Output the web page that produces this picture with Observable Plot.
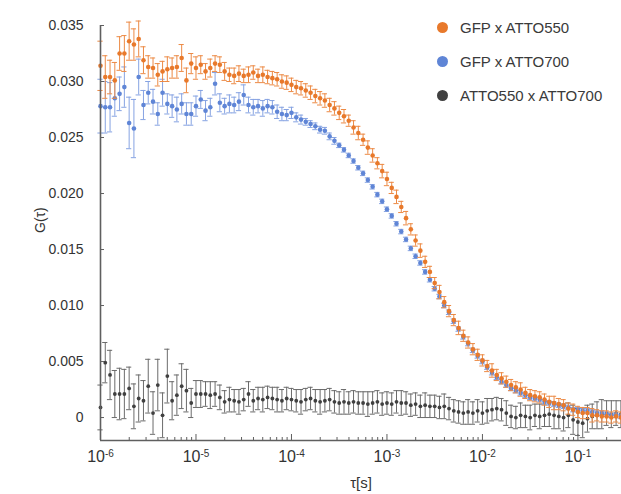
<!DOCTYPE html>
<html>
<head>
<meta charset="utf-8">
<script src="https://cdn.jsdelivr.net/npm/d3@7"></script>
<script src="https://cdn.jsdelivr.net/npm/@observablehq/plot@0.6"></script>
<style>
  html, body { margin: 0; padding: 0; background: #fff; }
  #chart { position: relative; width: 621px; height: 494px; font-family: "Liberation Sans", Arial, sans-serif; }
  .legend { position: absolute; left: 437px; top: 17px; font-size: 15px; color: #3a3a3a; }
  .legend .row { display: flex; align-items: center; height: 20px; margin-bottom: 14px; }
  .legend .sw { width: 11px; height: 11px; border-radius: 50%; margin-right: 12px; }
</style>
</head>
<body>
<div id="chart"></div>
<script>
// Lag times, log10(τ / s)
const logTau = [
  -6.00,-5.95,-5.90,-5.85,-5.80,-5.75,-5.70,-5.65,-5.60,-5.55,
  -5.50,-5.45,-5.40,-5.35,-5.30,-5.25,-5.20,-5.15,-5.10,-5.05,
  -5.00,-4.95,-4.90,-4.85,-4.80,-4.75,-4.70,-4.65,-4.60,-4.55,
  -4.50,-4.45,-4.40,-4.35,-4.30,-4.25,-4.20,-4.15,-4.10,-4.05,
  -4.00,-3.95,-3.90,-3.85,-3.80,-3.75,-3.70,-3.65,-3.60,-3.55,
  -3.50,-3.45,-3.40,-3.35,-3.30,-3.25,-3.20,-3.15,-3.10,-3.05,
  -3.00,-2.95,-2.90,-2.85,-2.80,-2.75,-2.70,-2.65,-2.60,-2.55,
  -2.50,-2.45,-2.40,-2.35,-2.30,-2.25,-2.20,-2.15,-2.10,-2.05,
  -2.00,-1.95,-1.90,-1.85,-1.80,-1.75,-1.70,-1.65,-1.60,-1.55,
  -1.50,-1.45,-1.40,-1.35,-1.30,-1.25,-1.20,-1.15,-1.10,-1.05,
  -1.00,-0.95,-0.90,-0.85,-0.80,-0.75,-0.70,-0.65,-0.60,-0.55
];

// Cross-correlation amplitudes G(τ), in units of 10^-3
const gfpAtto550 = [
  31.4,30.4,30.4,30.1,32.5,32.5,33.6,33.3,33.8,31.9,
  31.3,31.2,30.6,30.9,31.1,31.2,31.3,32.1,30.1,31.6,
  31.2,31.5,30.9,31.2,31.6,31.5,30.9,30.6,30.5,30.7,
  30.5,30.6,30.8,30.5,30.6,30.4,30.3,30.2,30.0,29.9,
  29.7,29.5,29.4,29.2,29.0,28.7,28.5,28.3,27.9,27.6,
  27.2,26.9,26.5,25.9,25.4,24.8,24.1,23.4,22.7,22.0,
  21.3,20.5,19.7,18.8,17.8,16.8,15.8,14.9,13.9,13.0,
  12.0,11.2,10.3,9.5,8.7,8.0,7.3,6.7,6.1,5.6,
  5.1,4.6,4.2,3.8,3.5,3.2,2.9,2.7,2.5,2.2,
  2.0,1.9,1.8,1.6,1.4,1.3,1.2,1.1,0.8,0.7,
  0.5,0.4,0.4,0.2,0.2,0.1,0.1,0.0,0.1,0.0
];
const gfpAtto550Err = [
  2.2,1.9,1.5,1.6,1.5,1.6,1.7,1.4,1.6,1.2,
  1.0,0.9,1.0,0.9,1.1,0.9,1.0,1.2,1.1,0.9,
  1.0,0.8,0.7,0.8,0.7,0.7,0.8,0.6,0.7,0.7,
  0.6,0.7,0.6,0.6,0.7,0.6,0.6,0.6,0.6,0.6,
  0.6,0.6,0.6,0.6,0.6,0.6,0.6,0.6,0.6,0.6,
  0.6,0.6,0.5,0.6,0.6,0.5,0.6,0.6,0.5,0.6,
  0.6,0.5,0.6,0.5,0.6,0.5,0.5,0.6,0.5,0.5,
  0.5,0.6,0.5,0.5,0.5,0.6,0.5,0.5,0.5,0.5,
  0.5,0.5,0.6,0.5,0.5,0.5,0.5,0.5,0.6,0.5,
  0.5,0.5,0.5,0.5,0.5,0.6,0.5,0.5,0.5,0.5,
  0.5,0.5,0.5,0.6,0.5,0.5,0.5,0.5,0.5,0.5
];

const gfpAtto700 = [
  27.8,27.7,27.7,28.5,28.9,29.5,26.3,25.8,30.4,27.9,
  29.0,28.2,27.1,29.0,28.0,27.8,27.5,28.0,27.1,27.1,
  27.8,28.4,27.4,27.7,29.8,28.1,27.8,28.0,27.9,28.2,
  28.8,27.9,27.7,27.8,27.6,27.8,27.7,27.3,27.1,27.0,
  27.2,26.8,26.6,26.4,26.2,26.0,25.7,25.6,25.1,24.7,
  24.3,23.9,23.4,22.9,22.3,21.8,21.2,20.6,19.9,19.3,
  18.6,18.0,17.3,16.6,15.9,15.1,14.4,13.8,13.0,12.3,
  11.5,10.8,10.0,9.4,8.6,7.9,7.2,6.6,6.0,5.5,
  5.0,4.5,4.0,3.6,3.2,2.9,2.6,2.4,2.2,2.0,
  1.8,1.7,1.6,1.4,1.3,1.2,1.1,1.0,0.9,0.7,
  0.7,0.6,0.6,0.5,0.4,0.4,0.3,0.2,0.2,0.1
];
const gfpAtto700Err = [
  2.4,2.3,2.2,1.6,1.5,1.8,2.3,2.6,1.6,1.3,
  1.0,1.1,1.0,1.2,0.9,1.0,1.1,0.9,1.0,1.0,
  0.9,0.8,0.9,0.8,1.0,0.8,0.7,0.8,0.7,0.8,
  0.9,0.7,0.7,0.6,0.7,0.6,0.6,0.6,0.6,0.5,
  0.5,0.4,0.4,0.3,0.3,0.3,0.3,0.3,0.3,0.3,
  0.2,0.2,0.2,0.2,0.2,0.2,0.2,0.2,0.2,0.2,
  0.2,0.2,0.2,0.2,0.2,0.2,0.2,0.2,0.2,0.2,
  0.2,0.2,0.2,0.2,0.2,0.2,0.2,0.2,0.2,0.2,
  0.2,0.2,0.2,0.2,0.2,0.2,0.2,0.2,0.2,0.2,
  0.2,0.2,0.2,0.2,0.2,0.2,0.2,0.2,0.2,0.2,
  0.2,0.2,0.2,0.2,0.2,0.2,0.2,0.2,0.2,0.2
];

const atto550Atto700 = [
  0.9,4.9,3.8,2.1,2.1,2.1,2.6,1.0,1.7,1.5,
  2.8,0.4,2.9,0.2,3.7,1.5,2.0,2.8,2.4,1.3,
  2.1,2.1,2.1,2.0,2.1,1.8,1.4,1.6,1.5,1.4,
  1.6,2.1,1.5,1.7,1.6,1.8,1.7,1.6,1.5,1.7,
  1.6,1.5,1.4,1.6,1.7,1.5,1.4,1.5,1.6,1.4,
  1.3,1.4,1.3,1.4,1.3,1.3,1.2,1.3,1.4,1.2,
  1.3,1.2,1.4,1.3,1.3,1.1,1.2,1.0,1.1,1.0,
  1.0,0.9,1.0,0.8,0.6,0.5,0.4,0.5,0.4,0.6,
  0.4,0.6,0.7,0.8,0.7,0.4,0.1,0.0,0.2,0.1,
  0.0,0.2,0.1,0.2,0.3,0.2,0.1,0.0,0.2,-0.2,
  -0.4,-0.5,-0.1,0.1,0.2,0.3,0.4,0.3,0.4,0.3
];
const atto550Atto700Err = [
  2.0,1.8,2.2,2.1,2.3,2.2,1.9,2.0,2.1,1.8,
  2.4,1.9,2.3,2.0,2.4,1.7,1.8,2.0,1.9,1.3,
  1.2,1.2,1.1,1.2,1.1,1.1,1.0,1.1,1.0,1.1,
  1.0,1.1,1.0,1.0,1.1,1.0,1.0,1.1,1.0,1.0,
  1.0,1.0,1.1,1.0,1.0,1.0,1.1,1.0,1.0,1.0,
  1.0,1.1,1.0,1.0,1.0,1.0,1.1,1.0,1.0,1.0,
  1.0,1.0,1.0,1.1,1.0,1.0,1.0,1.0,1.1,1.0,
  1.0,1.0,1.1,1.0,1.0,1.0,1.0,1.1,1.0,1.0,
  1.0,1.1,1.0,1.0,1.0,1.1,1.0,1.0,1.1,1.0,
  1.1,1.0,1.1,1.0,1.1,1.2,1.1,1.2,1.1,1.3,
  1.2,1.3,1.2,1.1,1.2,1.3,1.1,1.2,1.1,1.2
];

const seriesNames = ["GFP x ATTO550", "GFP x ATTO700", "ATTO550 x ATTO700"];
const yTicks = [0, 0.005, 0.010, 0.015, 0.020, 0.025, 0.030, 0.035];
const xMajorTicks = [1e-6, 1e-5, 1e-4, 1e-3, 1e-2, 1e-1];
const xDomain = [1e-6, 0.286];
const yDomain = [-0.00205, 0.035];
const xTitle = "τ[s]";
const yTitle = "G(τ)";

// Drawing order: grey first, orange on top
const series = [
  {name: seriesNames[2], g: atto550Atto700, err: atto550Atto700Err, dot: "#404040", bar: "#6b6b6b", r: 1.9},
  {name: seriesNames[1], g: gfpAtto700, err: gfpAtto700Err, dot: "#5f85d6", bar: "#86a3e2", r: 2.3},
  {name: seriesNames[0], g: gfpAtto550, err: gfpAtto550Err, dot: "#e8792b", bar: "#ec8a45", r: 2.3}
];

const unit = 1e-3;
const cap = 1.065; // half-width of error-bar caps, as a factor in τ

const marks = [];
for (const s of series) {
  const rows = logTau.map((lt, i) => ({
    tau: Math.pow(10, lt),
    g: s.g[i] * unit,
    lo: (s.g[i] - s.err[i]) * unit,
    hi: (s.g[i] + s.err[i]) * unit
  }));
  marks.push(
    Plot.ruleX(rows, {x: "tau", y1: "lo", y2: "hi", stroke: s.bar, strokeWidth: 1}),
    Plot.ruleY(rows, {y: "lo", x1: d => d.tau / cap, x2: d => d.tau * cap, stroke: s.bar, strokeWidth: 1}),
    Plot.ruleY(rows, {y: "hi", x1: d => d.tau / cap, x2: d => d.tau * cap, stroke: s.bar, strokeWidth: 1}),
    Plot.dot(rows, {x: "tau", y: "g", r: s.r, fill: s.dot, stroke: "none"})
  );
}

// Minor decade ticks 2..9 × 10^k inside the domain
const xMinorTicks = [];
for (const base of xMajorTicks) {
  for (let m = 2; m <= 9; m++) {
    const v = m * base;
    if (v <= xDomain[1]) xMinorTicks.push(v);
  }
}

const axisColor = "#5f5f5f";

const plot = Plot.plot({
  width: 621,
  height: 494,
  marginLeft: 100,
  marginRight: 0,
  marginTop: 25,
  marginBottom: 54,
  style: {fontFamily: '"Liberation Sans", Arial, sans-serif', fontSize: "14px", color: "#333", background: "#fff"},
  x: {type: "log", domain: xDomain},
  y: {domain: yDomain},
  marks: [
    ...marks,
    Plot.axisY({
      ticks: yTicks,
      tickFormat: d => d === 0 ? "0" : d.toFixed(3),
      tickSize: -4,
      tickPadding: 21,
      stroke: axisColor,
      fontSize: 14,
      label: null
    }),
    Plot.axisX({
      ticks: xMajorTicks,
      tickFormat: d => `10^${Math.round(Math.log10(d))}`,
      tickSize: -6,
      tickPadding: 16,
      stroke: axisColor,
      fontSize: 16,
      label: null
    }),
    Plot.axisX({
      ticks: xMinorTicks,
      tickFormat: () => "",
      tickSize: -3,
      stroke: axisColor,
      label: null
    }),
    Plot.ruleX([xDomain[0]], {stroke: axisColor, strokeWidth: 1.6}),
    Plot.ruleY([yDomain[0]], {stroke: axisColor, strokeWidth: 1.6}),
    // Axis titles
    Plot.text([yTitle], {text: d => d, frameAnchor: "left", dx: -60, rotate: -90, fontSize: 14, fill: "#333"}),
    Plot.text([xTitle], {text: d => d, frameAnchor: "bottom", dy: 47, fontSize: 15, fill: "#333"})
  ]
});

// Powers of ten as "10" with a raised exponent
const ns = "http://www.w3.org/2000/svg";
plot.querySelectorAll('g[aria-label="x-axis tick label"] text').forEach(t => {
  const m = /^10\^(.+)$/.exec(t.textContent);
  if (!m) return;
  t.textContent = "";
  const base = document.createElementNS(ns, "tspan");
  base.textContent = "10";
  const exp = document.createElementNS(ns, "tspan");
  exp.setAttribute("dy", "-0.5em");
  exp.setAttribute("font-size", "10px");
  exp.textContent = m[1];
  t.append(base, exp);
});

const chart = document.getElementById("chart");
chart.appendChild(plot);

// Legend in the upper-right corner of the plot area
const legend = document.createElement("div");
legend.className = "legend";
for (const s of [series[2], series[1], series[0]]) {
  const row = document.createElement("div");
  row.className = "row";
  const sw = document.createElement("span");
  sw.className = "sw";
  sw.style.background = s.dot;
  const label = document.createElement("span");
  label.textContent = s.name;
  row.append(sw, label);
  legend.appendChild(row);
}
chart.appendChild(legend);
</script>
</body>
</html>
